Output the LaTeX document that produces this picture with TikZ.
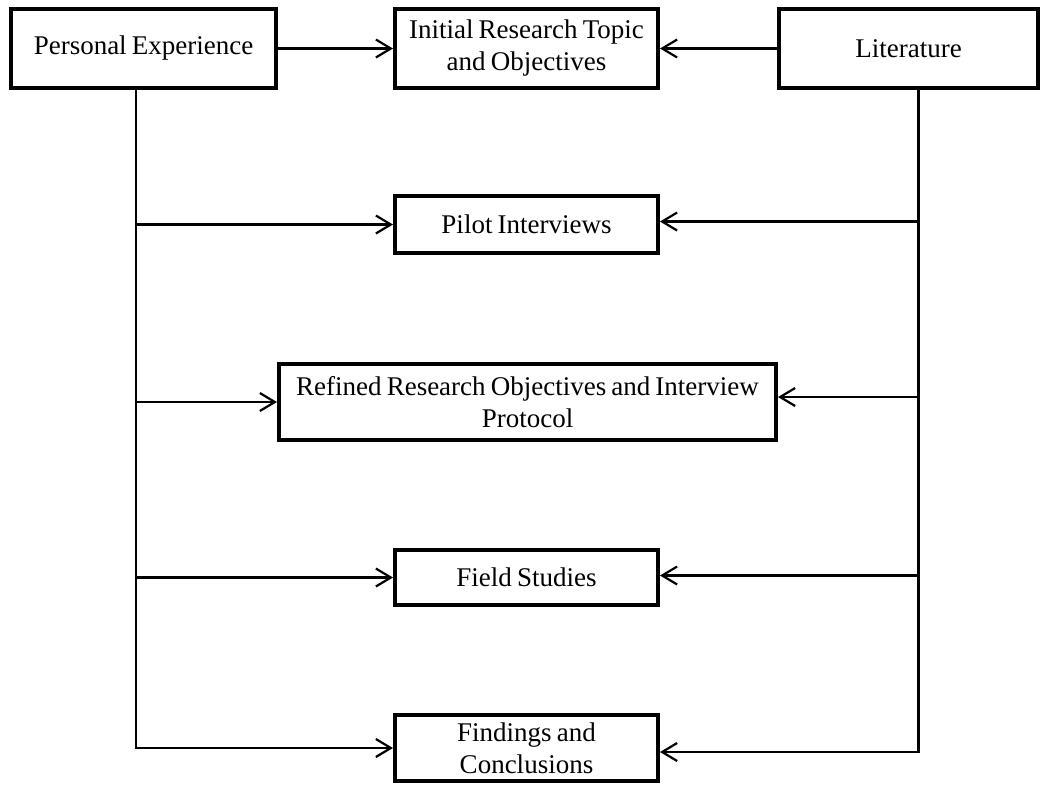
\documentclass[tikz,border=0pt]{standalone}
\usepackage{fontspec}
\setmainfont{Liberation Serif}[WordSpace=0.75]
\usetikzlibrary{arrows.meta}
\begin{document}
\begin{tikzpicture}[x=1pt,y=-1pt,
  box/.style={draw, line width=4pt, align=center, inner sep=0pt,
              font=\fontsize{27}{32}\selectfont},
  link/.style={line width=2.2pt},
  arr/.style={link, -{Straight Barb[length=15pt,width=18pt,line width=2.2pt]}}]
\useasboundingbox (0,0) rectangle (1042,785);

% top row
\node[box, minimum width=265pt, minimum height=79pt] (pe)   at (143.5,48.5) {Personal Experience};
\node[box, minimum width=263pt, minimum height=79pt] (init) at (526.5,48.5) {Initial Research Topic\\and Objectives};
\node[box, minimum width=259pt, minimum height=79pt] (lit)  at (908.5,48.5) {Literature};

% middle column
\node[box, minimum width=263pt, minimum height=57pt] (pilot) at (526.5,224.5) {Pilot Interviews};
\node[box, minimum width=497pt, minimum height=76pt] (ref)   at (527.5,402)   {Refined Research Objectives and Interview\\Protocol};
\node[box, minimum width=263pt, minimum height=55pt] (field) at (526.5,577.5) {Field Studies};
\node[box, minimum width=263pt, minimum height=66pt] (find)  at (526.5,748)   {Findings and\\Conclusions};

% top arrows
\draw[arr] (pe) -- (init);
\draw[arr] (lit) -- (init);

% left trunk from Personal Experience
\coordinate (ltop) at (136,90);
\coordinate (lbot) at (find.west -| ltop);
\draw[arr] (ltop) -- (lbot) -- (find.west);
\draw[arr] (pilot.west -| ltop) -- (pilot.west);
\draw[arr] (ref.west -| ltop) -- (ref.west);
\draw[arr] (field.west -| ltop) -- (field.west);

% right trunk from Literature
\coordinate (rtop) at (918.5,90);
\coordinate (fr) at ([yshift=-4pt]find.east);
\coordinate (pr) at ([yshift=3pt]pilot.east);
\coordinate (rr) at ([yshift=5pt]ref.east);
\coordinate (sr) at ([yshift=2pt]field.east);
\draw[arr] (rtop) -- (fr -| rtop) -- (fr);
\draw[arr] (pr -| rtop) -- (pr);
\draw[arr] (rr -| rtop) -- (rr);
\draw[arr] (sr -| rtop) -- (sr);
\end{tikzpicture}
\end{document}
